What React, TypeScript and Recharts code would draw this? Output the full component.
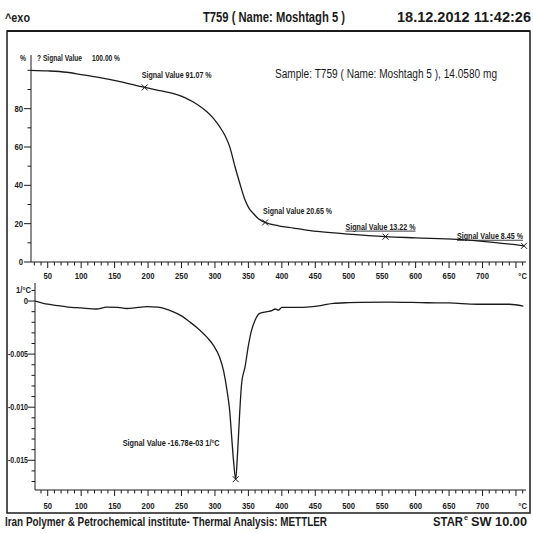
import React from "react";
import { LineChart, Line, XAxis, YAxis, ReferenceDot } from "recharts";

// TG curve (weight %, vs temperature °C)
const tgTemp = [25, 50, 78, 100, 128, 160, 195, 220, 237, 255, 267, 280, 288, 298, 307, 315, 322, 330, 337, 345, 351, 357, 365, 375, 395, 417, 440, 457, 500, 555, 600, 662, 720, 762];
const tgValue = [100, 99.7, 99.0, 97.8, 96.2, 94.0, 91.07, 89.3, 88.0, 85.8, 83.6, 80.6, 78.4, 74.8, 70.6, 66.0, 60.2, 49.7, 41.2, 32.3, 28.0, 25.5, 22.6, 20.65, 18.9, 17.7, 16.5, 15.8, 14.5, 13.22, 12.6, 11.8, 10.1, 8.45];

// DTG curve (1/°C)
const dtgTemp = [31, 50, 78, 100, 123, 138, 155, 168, 185, 198, 215, 237, 250, 262, 275, 288, 298, 307, 313, 318, 322, 325, 328, 331, 334, 337, 340, 345, 350, 355, 360, 367, 378, 385, 390, 395, 400, 420, 442, 460, 477, 500, 517, 560, 617, 650, 692, 740, 761];
const dtgValue = [0, -0.0003, -0.00054, -0.00065, -0.00075, -0.00058, -0.0006, -0.0007, -0.0006, -0.00052, -0.00058, -0.001, -0.0014, -0.00195, -0.0026, -0.0034, -0.0042, -0.0053, -0.0066, -0.0084, -0.0103, -0.0128, -0.0152, -0.01678, -0.0141, -0.0105, -0.0077, -0.0062, -0.0042, -0.0027, -0.0018, -0.00116, -0.001, -0.0009, -0.00075, -0.00085, -0.0006, -0.0006, -0.00054, -0.0004, -0.00022, -0.00015, -0.00012, -0.0001, -0.00016, -0.00018, -0.0003, -0.0003, -0.00047];

// evaluated points
const tgMarkTemp = [195, 375, 555, 762];
const tgMarkValue = [91.07, 20.65, 13.22, 8.45];
const dtgMarkTemp = [331];
const dtgMarkValue = [-0.01678];

const xLabels = [50, 100, 150, 200, 250, 300, 350, 400, 450, 500, 550, 600, 650, 700];
const xTicks = Array.from({ length: 74 }, (_, i) => 30 + i * 10);
const tgTicks = [0, 10, 20, 30, 40, 50, 60, 70, 80, 90, 100];
const tgLabels = [0, 20, 40, 60, 80];
const dtgTicks = Array.from({ length: 19 }, (_, i) => (i - 17) / 1000);

const INK = "#1b1b1b";
const FONT = "'Liberation Sans', Arial, sans-serif";

const tgData = tgTemp.map((t, i) => ({ t, v: tgValue[i] }));
const dtgData = dtgTemp.map((t, i) => ({ t, v: dtgValue[i] }));

// narrow-looking bold label: squeeze text horizontally
function Narrow({ x, y, anchor = "start", size = 9, w, children, ...rest }: any) {
  return (
    <text
      x={x}
      y={y}
      textAnchor={anchor}
      fontFamily={FONT}
      fontWeight="bold"
      fontSize={size}
      fill={INK}
      textLength={w}
      lengthAdjust="spacingAndGlyphs"
      {...rest}
    >
      {children}
    </text>
  );
}

function XTick({ x, y, payload, dy }: any) {
  const v = payload.value;
  const major = v % 50 === 0;
  const label = xLabels.includes(v) ? String(v) : v === 760 ? "°C" : null;
  return (
    <g>
      <line x1={x} x2={x} y1={y} y2={y + (major ? 6 : 3.5)} stroke={INK} strokeWidth={1} />
      {label && (
        <Narrow x={x} y={y + dy} anchor="middle" dominantBaseline="central" w={label.length * 4.3}>
          {label}
        </Narrow>
      )}
    </g>
  );
}

function TgYTick({ x, y, payload }: any) {
  const v = payload.value;
  const major = tgLabels.includes(v);
  return (
    <g>
      <line x1={x - (major ? 7 : 3.5)} x2={x} y1={y} y2={y} stroke={INK} strokeWidth={1} />
      {major && (
        <Narrow x={x - 8} y={y} anchor="end" dominantBaseline="central" w={String(v).length * 4.3}>
          {v}
        </Narrow>
      )}
    </g>
  );
}

function DtgYTick({ x, y, payload }: any) {
  const i = Math.round(payload.value * 1000);
  const major = i % 5 === 0;
  const label = i === 0 ? "0" : payload.value.toFixed(3);
  return (
    <g>
      <line x1={x - (major ? 7 : 3.5)} x2={x} y1={y} y2={y} stroke={INK} strokeWidth={1} />
      {major && (
        <Narrow x={x - 7} y={y} anchor="end" dominantBaseline="central" size={8.5} w={i === 0 ? 4.3 : 20}>
          {label}
        </Narrow>
      )}
    </g>
  );
}

function Cross({ cx, cy }: { cx: number; cy: number }) {
  return (
    <g stroke={INK} strokeWidth={1}>
      <line x1={cx - 3} y1={cy - 3} x2={cx + 3} y2={cy + 3} />
      <line x1={cx - 3} y1={cy + 3} x2={cx + 3} y2={cy - 3} />
    </g>
  );
}

const tgLabelPos = [
  { dx: -3, dy: -9, w: 70, underline: false },
  { dx: -2, dy: -8, w: 69, underline: false },
  { dx: -40, dy: -7, w: 70, underline: true },
  { dx: -67, dy: -7, w: 66, underline: true },
];

function markShape(text: string, dx: number, dy: number, w: number, underline: boolean, anchor = "start") {
  return (p: any) => (
    <g>
      <Cross cx={p.cx} cy={p.cy} />
      <Narrow x={p.cx + dx} y={p.cy + dy} anchor={anchor} size={8.5} w={w} textDecoration={underline ? "underline" : undefined}>
        {text}
      </Narrow>
    </g>
  );
}

export default function App() {
  return (
    <div style={{ position: "absolute", left: 0, top: 0, width: 533, height: 534, background: "#fff", overflow: "hidden" }}>
      <svg width={533} height={534} style={{ position: "absolute", left: 0, top: 0 }}>
        <Narrow x={5} y={22} size={13} w={25}>^exo</Narrow>
        <Narrow x={203} y={22} size={14} w={142}>T759 ( Name: Moshtagh 5 )</Narrow>
        <Narrow x={397} y={22} size={14} w={134}>18.12.2012 11:42:26</Narrow>
        <rect x={7} y={31} width={523} height={482} fill="none" stroke={INK} strokeWidth={1.5} />
        <line x1={7} x2={530} y1={31} y2={31} stroke={INK} strokeWidth={2} />
        <Narrow x={20} y={61} w={6}>%</Narrow>
        <Narrow x={37} y={61} w={45}>? Signal Value</Narrow>
        <Narrow x={92} y={61} w={28}>100.00 %</Narrow>
        <text x={275} y={78} fontSize={12} textLength={222} fontFamily={FONT} fill={INK} lengthAdjust="spacingAndGlyphs" transform="translate(0 0)">
          Sample: T759 ( Name: Moshtagh 5 ), 14.0580 mg
        </text>
        <Narrow x={16} y={293} w={15}>1/°C</Narrow>
        <Narrow x={5} y={526} size={13.5} w={322}>Iran Polymer &amp; Petrochemical institute- Thermal Analysis: METTLER</Narrow>
        <Narrow x={433} y={526} size={13.5} w={30}>STAR</Narrow>
        <Narrow x={464} y={520} size={7} w={4}>e</Narrow>
        <Narrow x={471} y={526} size={13.5} w={56}>SW 10.00</Narrow>
      </svg>

      <div style={{ position: "absolute", left: 0, top: 0 }}>
        <LineChart width={533} height={290} data={tgData} margin={{ top: 55, right: 7, bottom: 0, left: 0 }}>
          <XAxis dataKey="t" type="number" domain={[25, 765]} ticks={xTicks} interval={0} height={28} tickSize={0} tickMargin={0} axisLine={{ stroke: INK }} tick={<XTick dy={14} />} allowDataOverflow />
          <YAxis type="number" domain={[0, 108]} ticks={tgTicks} interval={0} width={31} tickSize={0} tickMargin={0} axisLine={{ stroke: INK }} tick={<TgYTick />} allowDataOverflow />
          <Line dataKey="v" type="monotone" stroke={INK} strokeWidth={1.3} dot={false} isAnimationActive={false} />
          {tgMarkTemp.map((t, i) => (
            <ReferenceDot
              key={t}
              x={t}
              y={tgMarkValue[i]}
              r={3}
              shape={markShape(`Signal Value ${tgMarkValue[i].toFixed(2)} %`, tgLabelPos[i].dx, tgLabelPos[i].dy, tgLabelPos[i].w, tgLabelPos[i].underline)}
            />
          ))}
        </LineChart>
      </div>

      <div style={{ position: "absolute", left: 0, top: 270 }}>
        <LineChart width={533} height={250} data={dtgData} margin={{ top: 13, right: 7, bottom: 0, left: 0 }}>
          <XAxis dataKey="t" type="number" domain={[31, 765]} ticks={xTicks.filter((t) => t >= 31)} interval={0} height={30} tickSize={0} tickMargin={0} axisLine={{ stroke: INK }} tick={<XTick dy={16} />} allowDataOverflow />
          <YAxis type="number" domain={[-0.0178, 0.0017]} ticks={dtgTicks} interval={0} width={35} tickSize={0} tickMargin={0} axisLine={{ stroke: INK }} tick={<DtgYTick />} allowDataOverflow />
          <Line dataKey="v" type="monotone" stroke={INK} strokeWidth={1.3} dot={false} isAnimationActive={false} />
          {dtgMarkTemp.map((t, i) => (
            <ReferenceDot
              key={t}
              x={t}
              y={dtgMarkValue[i]}
              r={3}
              shape={markShape(`Signal Value ${(dtgMarkValue[i] * 1000).toFixed(2)}e-03 1/°C`, -16, -33, 97, false, "end")}
            />
          ))}
        </LineChart>
      </div>
    </div>
  );
}
